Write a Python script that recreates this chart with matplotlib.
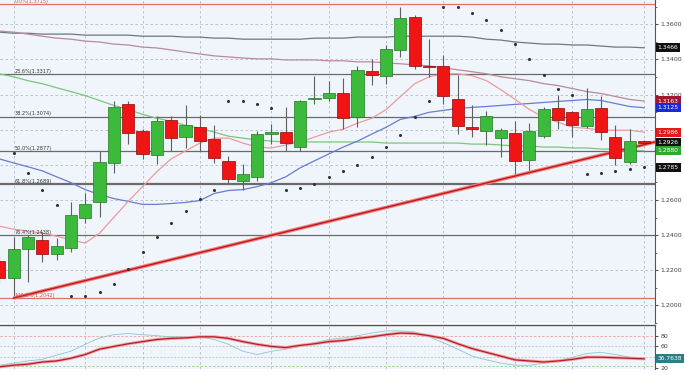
import numpy as np
import matplotlib
matplotlib.use("Agg")
import matplotlib.pyplot as plt
import matplotlib.transforms as mtransforms

# ---- daily candles ----
opens = [1.2254, 1.2158, 1.2321, 1.2372, 1.2293, 1.2327, 1.2496, 1.2586, 1.2811, 1.3149,
         1.2992, 1.2856, 1.3054, 1.2958, 1.3014, 1.2946, 1.2823, 1.2710, 1.2732, 1.2975,
         1.2986, 1.2901, 1.3172, 1.3183, 1.3211, 1.3070, 1.3335, 1.3307, 1.3454, 1.3639,
         1.3360, 1.3363, 1.3172, 1.3014, 1.2992, 1.2952, 1.2980, 1.2828, 1.2963, 1.3121,
         1.3099, 1.3020, 1.3121, 1.2958, 1.2817, 1.2935]
highs = [1.2287, 1.2389, 1.2400, 1.2417, 1.2383, 1.2586, 1.2637, 1.2879, 1.3166, 1.3166,
         1.3003, 1.3076, 1.3076, 1.3138, 1.3082, 1.3025, 1.2851, 1.2806, 1.2992, 1.3031,
         1.3127, 1.3170, 1.3307, 1.3279, 1.3296, 1.3363, 1.3403, 1.3482, 1.3701, 1.3651,
         1.3515, 1.3425, 1.3313, 1.3138, 1.3104, 1.3008, 1.3048, 1.3037, 1.3127, 1.3200,
         1.3104, 1.3239, 1.3189, 1.3025, 1.3003, 1.2940]
lows = [1.2135, 1.2042, 1.2135, 1.2248, 1.2259, 1.2304, 1.2468, 1.2501, 1.2755, 1.2918,
        1.2834, 1.2806, 1.2879, 1.2896, 1.2879, 1.2811, 1.2699, 1.2659, 1.2710, 1.2918,
        1.2879, 1.2879, 1.3144, 1.3161, 1.3003, 1.3014, 1.3256, 1.3262, 1.3414, 1.3346,
        1.3301, 1.3144, 1.2975, 1.2958, 1.2913, 1.2845, 1.2749, 1.2749, 1.2952, 1.3003,
        1.2958, 1.3008, 1.2941, 1.2800, 1.2806, 1.2920]
closes = [1.2158, 1.2321, 1.2389, 1.2293, 1.2338, 1.2513, 1.2580, 1.2817, 1.3127, 1.2980,
          1.2862, 1.3048, 1.2952, 1.3025, 1.2935, 1.2839, 1.2721, 1.2749, 1.2975, 1.2986,
          1.2924, 1.3166, 1.3183, 1.3211, 1.3065, 1.3341, 1.3313, 1.3459, 1.3634, 1.3363,
          1.3355, 1.3189, 1.3020, 1.3003, 1.3076, 1.2997, 1.2823, 1.2992, 1.3115, 1.3054,
          1.3025, 1.3115, 1.2986, 1.2839, 1.2935, 1.2926]

# ---- moving averages ----
ma_gray = [1.3555, 1.3549, 1.3549, 1.3544, 1.3544, 1.3544, 1.3538, 1.3538, 1.3538, 1.3538,
           1.3532, 1.3532, 1.3532, 1.3527, 1.3527, 1.3521, 1.3521, 1.3515, 1.3515, 1.3515,
           1.3515, 1.3515, 1.3521, 1.3521, 1.3521, 1.3527, 1.3527, 1.3527, 1.3532, 1.3532,
           1.3532, 1.3532, 1.3532, 1.3527, 1.3515, 1.3510, 1.3499, 1.3493, 1.3487, 1.3487,
           1.3482, 1.3482, 1.3476, 1.3470, 1.3470, 1.3466]
ma_pink = [1.3561, 1.3555, 1.3544, 1.3532, 1.3521, 1.3515, 1.3504, 1.3499, 1.3487, 1.3482,
           1.3470, 1.3465, 1.3454, 1.3442, 1.3431, 1.3420, 1.3414, 1.3408, 1.3403, 1.3403,
           1.3397, 1.3397, 1.3397, 1.3392, 1.3392, 1.3386, 1.3386, 1.3380, 1.3375, 1.3369,
           1.3363, 1.3352, 1.3341, 1.3330, 1.3318, 1.3301, 1.3290, 1.3279, 1.3262, 1.3251,
           1.3234, 1.3217, 1.3206, 1.3189, 1.3172, 1.3163]
ma_blue = [1.2834, 1.2811, 1.2789, 1.2766, 1.2732, 1.2699, 1.2659, 1.2631, 1.2608, 1.2592,
           1.2575, 1.2575, 1.2580, 1.2586, 1.2597, 1.2637, 1.2654, 1.2659, 1.2676, 1.2699,
           1.2732, 1.2783, 1.2823, 1.2862, 1.2901, 1.2935, 1.2975, 1.3014, 1.3059, 1.3076,
           1.3099, 1.3110, 1.3121, 1.3127, 1.3132, 1.3138, 1.3144, 1.3149, 1.3155, 1.3161,
           1.3166, 1.3172, 1.3166, 1.3149, 1.3132, 1.3125]
ma_green = [1.3318, 1.3301, 1.3279, 1.3262, 1.3239, 1.3217, 1.3194, 1.3166, 1.3138, 1.3115,
            1.3087, 1.3065, 1.3048, 1.3025, 1.3008, 1.2986, 1.2963, 1.2952, 1.2941, 1.2935,
            1.2930, 1.2930, 1.2930, 1.2930, 1.2930, 1.2930, 1.2930, 1.2924, 1.2924, 1.2924,
            1.2924, 1.2924, 1.2924, 1.2918, 1.2918, 1.2913, 1.2907, 1.2907, 1.2901, 1.2901,
            1.2896, 1.2896, 1.2890, 1.2890, 1.2885, 1.2880]
ma_fast = [1.2451, 1.2434, 1.2423, 1.2411, 1.2394, 1.2372, 1.2355, 1.2411, 1.2501, 1.2592,
           1.2676, 1.2761, 1.2834, 1.2879, 1.2924, 1.2952, 1.2952, 1.2924, 1.2901, 1.2896,
           1.2913, 1.2930, 1.2958, 1.2986, 1.3003, 1.3037, 1.3065, 1.3115, 1.3189, 1.3262,
           1.3301, 1.3318, 1.3318, 1.3307, 1.3279, 1.3228, 1.3172, 1.3115, 1.3070, 1.3042,
           1.3014, 1.3008, 1.2997, 1.2997, 1.2997, 1.2986]

# ---- parabolic SAR ----
sar = [np.nan, 1.2868, 1.2755, 1.2654, 1.2569, 1.2051, 1.2056, 1.2079, 1.2124, 1.2208,
       1.2304, 1.2389, 1.2468, 1.2535, 1.2603, 1.2654, 1.3166, 1.3161, 1.3144, 1.3121,
       1.2659, 1.2670, 1.2693, 1.2732, 1.2766, 1.2800, 1.2845, 1.2901, 1.2969, 1.3070,
       1.3161, 1.3701, 1.3696, 1.3662, 1.3623, 1.3566, 1.3487, 1.3403, 1.3313, 1.3234,
       1.3200, 1.2749, 1.2755, 1.2766, 1.2777, 1.2785]

# ---- stochastic ----
stoch_k = [25, 29, 33, 36, 44, 51, 64, 76, 82, 84, 82, 80, 78, 78, 78, 73, 64, 51, 45, 51,
           55, 60, 67, 73, 76, 80, 85, 89, 89, 87, 78, 67, 55, 42, 35, 29, 25, 25, 29, 33,
           40, 47, 49, 45, 40, 37]
stoch_d = [22, 25, 27, 31, 33, 38, 45, 55, 60, 65, 69, 73, 75, 76, 78, 78, 75, 69, 64, 60,
           58, 62, 65, 69, 71, 75, 78, 82, 85, 84, 80, 75, 65, 56, 49, 42, 35, 33, 31, 33,
           36, 40, 40, 39, 38, 37]

# ---- fibonacci retracement ----
fib_levels = [1.3715, 1.3317, 1.3074, 1.2877, 1.2689, 1.2400, 1.2042]
fib_labels = ['0.0%(1.3715)', '23.6%(1.3317)', '38.2%(1.3074)', '50.0%(1.2877)',
              '61.8%(1.2689)', '76.4%(1.2438)', '100.0%(1.2042)']

# trend line anchors (index, price)
trend_x = [1, 45.76]
trend_y = [1.2042, 1.2930]

# right-hand value tags
tag_vals = [1.3466, 1.3163, 1.3125, 1.2986, 1.2926, 1.2880, 1.2785]
tag_text = ['1.3466', '1.3163', '1.3125', '1.2986', '1.2926', '1.2880', '1.2785']
tag_cols = ['#111111', '#a01830', '#1a2ad8', '#e41a1a', '#111111', '#2eaa2e', '#111111']

# price axis labels (1.3000 and 1.2800 sit behind the tags)
price_ticks = [1.20, 1.22, 1.24, 1.26, 1.28, 1.30, 1.32, 1.34, 1.36]
price_labels = ['1.2000', '1.2200', '1.2400', '1.2600', '', '', '1.3200', '1.3400', '1.3600']
stoch_ticks = [20, 40, 60, 80]
stoch_labels = ['20', '', '60', '80']

week_starts = [1, 6, 10, 14, 19, 23, 27, 31, 36, 40, 45]

n = len(opens)
x = np.arange(n)

fig = plt.figure(figsize=(6.85, 3.75), dpi=100)
fig.patch.set_facecolor('white')
ax = fig.add_axes([0, 52 / 375, 655 / 685, 323 / 375])
ax2 = fig.add_axes([0, 6 / 375, 655 / 685, 44 / 375])

for a in (ax, ax2):
    a.set_facecolor('#eff5fb')
    for s in ('left', 'top', 'bottom'):
        a.spines[s].set_visible(False)
    a.spines['right'].set_color('#555555')
    a.spines['right'].set_linewidth(0.8)
    a.set_xlim(0.056, 45.76)
    for w in week_starts:
        a.axvline(w, color='#b0bccb', lw=0.6, ls=(0, (3, 3)), zorder=0)

ax2.spines['top'].set_visible(True)
ax2.spines['top'].set_color('#555555')
ax2.spines['top'].set_linewidth(1.0)

# main panel
ax.set_ylim(1.1904, 1.3738)
for lv in price_ticks:
    ax.axhline(lv, color='#b0bccb', lw=0.6, ls=(0, (3, 3)), zorder=0)

for i, (lv, lab) in enumerate(zip(fib_levels, fib_labels)):
    red = i in (0, len(fib_levels) - 1)
    col = '#e07070' if red else '#6a6a6a'
    ax.axhline(lv, color=col, lw=1.6 if i == 4 else 0.9, zorder=1)
    ax.text(1.1, lv + 0.0002, lab, fontsize=3.6, color='#d05050' if red else '#333333',
            ha='left', va='bottom', zorder=6)

ax.plot(x, ma_gray, color='#6f7880', lw=0.9, zorder=2)
ax.plot(x, ma_pink, color='#b88a9a', lw=0.9, zorder=2)
ax.plot(x, ma_green, color='#7cc67c', lw=0.9, zorder=2)
ax.plot(x, ma_blue, color='#6a7bd0', lw=0.9, zorder=2)
ax.plot(x, ma_fast, color='#ef9a9a', lw=0.9, zorder=2)
ax.plot(trend_x, trend_y, color='#f08080', lw=2.6, zorder=4, solid_capstyle='butt')
ax.plot(trend_x, trend_y, color='#c01818', lw=1.0, zorder=4)

ax.vlines(x, lows, highs, color='#606060', lw=0.8, zorder=3)
for i in range(n):
    up = closes[i] >= opens[i]
    lo = min(opens[i], closes[i])
    h = max(abs(closes[i] - opens[i]), 0.0004)
    ax.bar(x[i], h, bottom=lo, width=0.84,
           color='#3cba3c' if up else '#f01414',
           edgecolor='#217a21' if up else '#8a0a0a', linewidth=0.5, zorder=5)

ax.scatter(x, sar, s=1.5, color='#333333', zorder=6)

ax.yaxis.tick_right()
ax.set_yticks(price_ticks)
ax.set_yticklabels(price_labels)
ax.set_yticks(np.arange(1.19, 1.37, 0.01), minor=True)
ax.tick_params(axis='y', which='major', labelsize=4.5, labelcolor='#444444',
               length=2, color='#555555', pad=2)
ax.tick_params(axis='y', which='minor', length=1.5, color='#555555')
ax.set_xticks([])

trans = mtransforms.blended_transform_factory(ax.transAxes, ax.transData)
for v, t, c in zip(tag_vals, tag_text, tag_cols):
    ax.text(1.004, v, t, transform=trans, fontsize=4.3, color='white', ha='left',
            va='center', clip_on=False, zorder=10,
            bbox=dict(boxstyle='square,pad=0.35', fc=c, ec='none'))

# stochastic panel
ax2.set_ylim(18, 100)
ax2.axhline(80, color='#f0a0a0', lw=0.6, ls=(0, (3, 2)), zorder=0)
ax2.axhline(60, color='#b8b8b8', lw=0.5, ls=(0, (3, 2)), zorder=0)
ax2.axhline(40, color='#b8b8b8', lw=0.5, ls=(0, (3, 2)), zorder=0)
ax2.axhline(24, color='#90d090', lw=0.6, ls=(0, (3, 2)), zorder=0)
ax2.plot(x, stoch_k, color='#8cc8cc', lw=0.6, zorder=2)
ax2.plot(x, stoch_d, color='#f2a0a0', lw=2.2, zorder=3)
ax2.plot(x, stoch_d, color='#b0202a', lw=0.9, zorder=3)
ax2.yaxis.tick_right()
ax2.set_yticks(stoch_ticks)
ax2.set_yticklabels(stoch_labels)
ax2.tick_params(axis='y', labelsize=4.5, labelcolor='#444444', length=2,
                color='#555555', pad=2)
ax2.set_xticks([])
trans2 = mtransforms.blended_transform_factory(ax2.transAxes, ax2.transData)
ax2.text(1.004, stoch_k[-1], '36.7638', transform=trans2, fontsize=4.3, color='white',
         ha='left', va='center', clip_on=False, zorder=10,
         bbox=dict(boxstyle='square,pad=0.35', fc='#2a7f86', ec='none'))

fig.savefig('out.png', dpi=100)
